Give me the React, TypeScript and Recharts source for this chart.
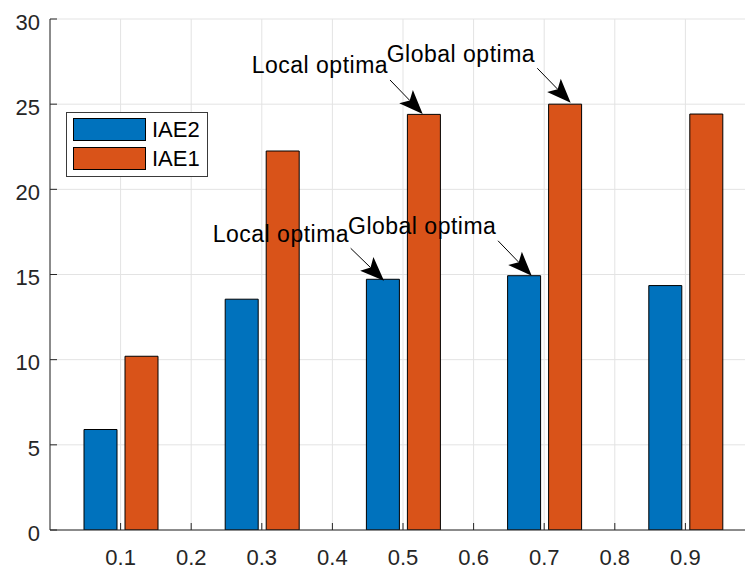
import React from "react";
import {
  BarChart,
  Bar,
  XAxis,
  YAxis,
  CartesianGrid,
  Legend,
  ReferenceLine,
  ReferenceDot,
} from "recharts";

// bar positions and values
const positions = [0.1, 0.3, 0.5, 0.7, 0.9];
const iae2 = [5.9, 13.55, 14.72, 14.93, 14.35];
const iae1 = [10.2, 22.25, 24.4, 25.0, 24.42];

const xTicks = [0.1, 0.2, 0.3, 0.4, 0.5, 0.6, 0.7, 0.8, 0.9];
const xTickLabels = ["0.1", "0.2", "0.3", "0.4", "0.5", "0.6", "0.7", "0.8", "0.9"];
const yTicks = [0, 5, 10, 15, 20, 25, 30];

const seriesNames = ["IAE2", "IAE1"];
const seriesColors = ["#0072BD", "#D95319"];

// text anchor, arrow tail and arrow tip, in data units
const annotations = [
  { text: "Local optima", at: [0.2857, 26.83], tail: [0.4816, 26.42], tip: [0.5279, 24.43] },
  { text: "Global optima", at: [0.4769, 27.48], tail: [0.6902, 27.11], tip: [0.7375, 25.09] },
  { text: "Local optima", at: [0.2305, 16.93], tail: [0.4259, 16.54], tip: [0.4731, 14.64] },
  { text: "Global optima", at: [0.4221, 17.38], tail: [0.6346, 16.98], tip: [0.6823, 14.93] },
];

const data = positions.map((x, i) => ({ x, IAE2: iae2[i], IAE1: iae1[i] }));

const FONT = '"Liberation Sans", Arial, Helvetica, sans-serif';
const AXIS = "#262626";

const BottomTick = (props: any) => {
  const { x, y, payload } = props;
  const label = xTickLabels[xTicks.indexOf(payload.value)];
  return (
    <g>
      <line x1={x} y1={y} x2={x} y2={y - 7} stroke={AXIS} />
      <text x={x} y={y + 35} textAnchor="middle" fontSize={22} fill={AXIS} fontFamily={FONT}>
        {label}
      </text>
    </g>
  );
};

const TopTick = (props: any) => {
  const { x, y } = props;
  return <line x1={x} y1={y} x2={x} y2={y + 7} stroke={AXIS} />;
};

const LeftTick = (props: any) => {
  const { x, y, payload } = props;
  return (
    <g>
      <line x1={x} y1={y} x2={x + 7} y2={y} stroke={AXIS} />
      <text x={x - 10} y={y + 3} dy="0.35em" textAnchor="end" fontSize={22} fill={AXIS} fontFamily={FONT}>
        {payload.value}
      </text>
    </g>
  );
};

const ArrowShape = (p: any) => {
  const { x1, y1, x2, y2 } = p;
  const dx = x2 - x1;
  const dy = y2 - y1;
  const len = Math.hypot(dx, dy) || 1;
  const ux = dx / len;
  const uy = dy / len;
  const nx = -uy;
  const ny = ux;
  const L = 24;
  const W = 9.5;
  const bx = x2 - ux * L;
  const by = y2 - uy * L;
  const kx = x2 - ux * L * 0.78;
  const ky = y2 - uy * L * 0.78;
  return (
    <g>
      <line x1={x1} y1={y1} x2={kx} y2={ky} stroke="#000" strokeWidth={1} />
      <polygon
        points={`${x2},${y2} ${bx + nx * W},${by + ny * W} ${kx},${ky} ${bx - nx * W},${by - ny * W}`}
        fill="#000"
      />
    </g>
  );
};

const LegendBox = () => (
  <div
    style={{
      width: 140,
      height: 63,
      border: "1px solid #3a3a3a",
      background: "#fff",
      position: "relative",
      fontFamily: FONT,
      fontSize: 22,
    }}
  >
    {seriesNames.map((n, i) => (
      <div
        key={n}
        style={{ position: "absolute", left: 6, top: 5 + i * 29, display: "flex", alignItems: "center" }}
      >
        <div style={{ width: 71, height: 21, background: seriesColors[i], border: "1px solid #000" }} />
        <span style={{ marginLeft: 6, lineHeight: "23px", color: "#000" }}>{n}</span>
      </div>
    ))}
  </div>
);

export default function App() {
  return (
    <div
      style={{
        position: "fixed",
        left: 0,
        top: 0,
        width: 745,
        height: 572,
        overflow: "hidden",
        background: "#fff",
      }}
    >
      <BarChart
        width={770}
        height={572}
        data={data}
        barSize={33}
        barGap={8}
        margin={{ top: 19, right: 14, left: 0, bottom: 0 }}
      >
        <CartesianGrid stroke="#e3e3e3" />
        <XAxis
          dataKey="x"
          type="number"
          domain={[0, 1]}
          ticks={xTicks}
          interval={0}
          allowDataOverflow
          height={42}
          tickSize={0}
          tickMargin={0}
          tickLine={false}
          axisLine={{ stroke: AXIS }}
          tick={BottomTick}
        />
        <XAxis
          xAxisId="top"
          orientation="top"
          dataKey="x"
          type="number"
          domain={[0, 1]}
          ticks={xTicks}
          interval={0}
          allowDataOverflow
          height={0}
          tickSize={0}
          tickMargin={0}
          tickLine={false}
          axisLine={{ stroke: AXIS }}
          tick={TopTick}
        />
        <YAxis
          type="number"
          domain={[0, 30]}
          ticks={yTicks}
          interval={0}
          allowDataOverflow
          width={50}
          tickSize={0}
          tickMargin={0}
          tickLine={false}
          axisLine={{ stroke: AXIS }}
          tick={LeftTick}
        />
        <Legend
          layout="horizontal"
          verticalAlign="middle"
          align="center"
          content={LegendBox}
          wrapperStyle={{ left: 66, top: 112, right: "auto", bottom: "auto", width: 142 }}
        />
        <Bar dataKey="IAE2" name="IAE2" fill={seriesColors[0]} stroke="#000" strokeWidth={1} isAnimationActive={false} />
        <Bar dataKey="IAE1" name="IAE1" fill={seriesColors[1]} stroke="#000" strokeWidth={1} isAnimationActive={false} />
        {annotations.map((a, i) => (
          <ReferenceLine
            key={"arrow" + i}
            segment={[
              { x: a.tail[0], y: a.tail[1] },
              { x: a.tip[0], y: a.tip[1] },
            ]}
            ifOverflow="visible"
            shape={ArrowShape}
          />
        ))}
        {annotations.map((a, i) => (
          <ReferenceDot
            key={"text" + i}
            x={a.at[0]}
            y={a.at[1]}
            r={0}
            ifOverflow="visible"
            shape={(p: any) => (
              <text x={p.cx} y={p.cy} fontSize={23} letterSpacing={0.5} fill="#000" fontFamily={FONT}>
                {a.text}
              </text>
            )}
          />
        ))}
      </BarChart>
    </div>
  );
}
